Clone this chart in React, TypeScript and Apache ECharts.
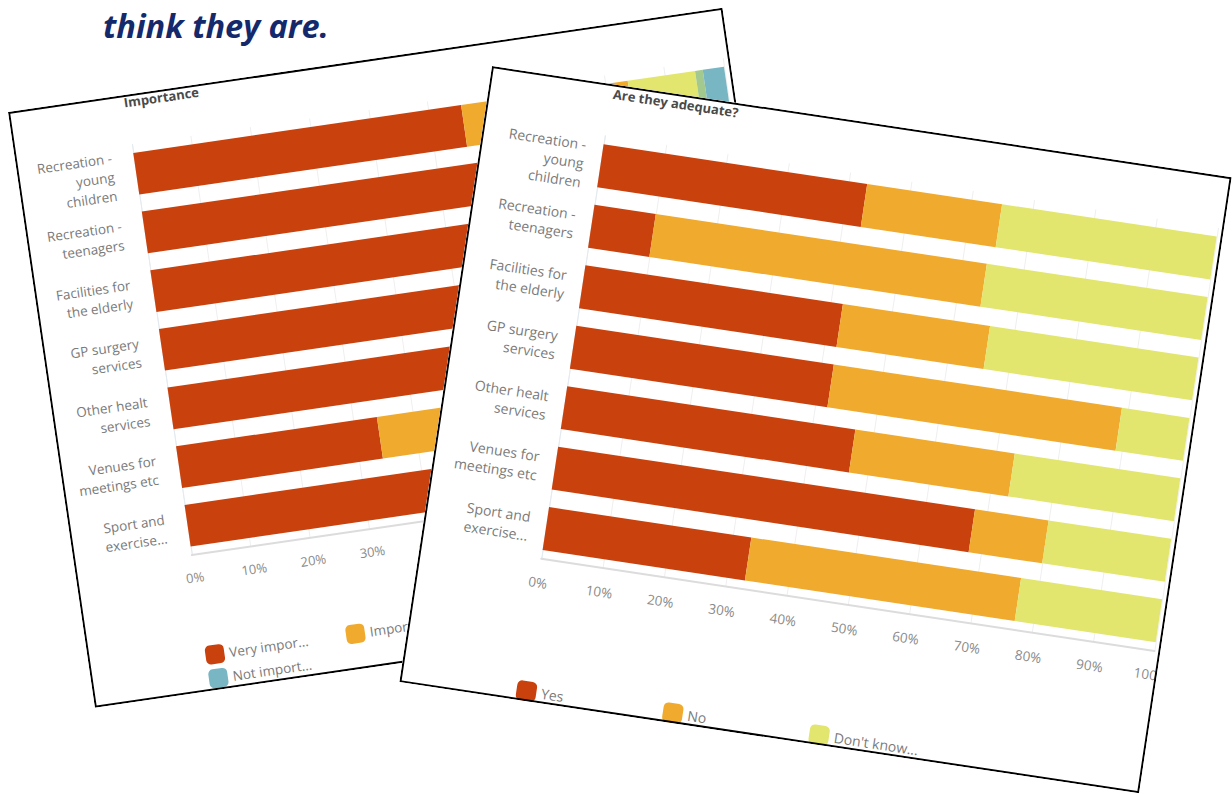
import React, { useEffect, useRef } from "react";
import * as echarts from "echarts";

// ---------- data ----------
const categories = [
  "Recreation -\nyoung\nchildren",
  "Recreation -\nteenagers",
  "Facilities for\nthe elderly",
  "GP surgery\nservices",
  "Other healt\nservices",
  "Venues for\nmeetings etc",
  "Sport and\nexercise...",
];

const pageTitle = "think they are.";

const adequacyTitle = "Are they adequate?";
const adequacyNames = ["Yes", "No", "Don't know..."];
const adequacyYes = [43, 10, 42, 42, 47, 68, 33];
const adequacyNo = [22, 54, 24, 47, 26, 12, 44];
const adequacyDontKnow = [35, 36, 34, 11, 27, 20, 23];

const importanceTitle = "Importance";
const importanceNames = ["Very impor...", "Important", "Neutral", "Not very i...", "Not import..."];
const importanceVery = [55.5, 66, 74, 86, 79, 34, 61];
const importanceImportant = [28.2, 26, 20, 12, 17, 44, 30];
const importanceNeutral = [11.4, 6, 4, 1, 3, 15, 6];
const importanceNotVery = [1.3, 1, 1, 0.5, 0.5, 3, 1];
const importanceNot = [3.6, 1, 1, 0.5, 0.5, 4, 2];

const RED = "#c9420e";
const ORANGE = "#f0aa2d";
const YELLOW = "#e2e66e";
const GREEN = "#a3c98e";
const TEAL = "#78b6c3";

const FONT = "'Open Sans', 'Noto Sans', sans-serif";

type Cfg = {
  title: string;
  titleLeft: number;
  titleTop: number;
  gridLeft: number;
  gridTop: number;
  gridWidth: number;
  gridHeight: number;
  yLabelMargin: number;
  xLabelMargin: number;
  fontSize: number;
  names: string[];
  values: number[][];
  colors: string[];
  legendPos: [number, number][];
  legendIcon: number;
};

function buildOption(c: Cfg) {
  return {
    animation: false,
    backgroundColor: "#ffffff",
    textStyle: { fontFamily: FONT },
    title: {
      text: c.title,
      left: c.titleLeft,
      top: c.titleTop,
      padding: 0,
      textStyle: { fontFamily: FONT, fontSize: 13, fontWeight: "bold", color: "#4a4a4a" },
    },
    grid: {
      left: c.gridLeft,
      top: c.gridTop,
      width: c.gridWidth,
      height: c.gridHeight,
      containLabel: false,
      outerBoundsMode: "none",
    },
    legend: c.names.map((n, i) => ({
      data: [n],
      left: c.legendPos[i][0],
      top: c.legendPos[i][1],
      padding: 0,
      itemGap: 0,
      itemWidth: c.legendIcon,
      itemHeight: c.legendIcon,
      icon: "roundRect",
      selectedMode: false,
      textStyle: { fontFamily: FONT, fontSize: c.fontSize, color: "#7a7a7a" },
    })),
    xAxis: {
      type: "value",
      min: 0,
      max: 100,
      interval: 10,
      axisLabel: { formatter: "{value}%", margin: c.xLabelMargin, color: "#8a8a8a", fontSize: c.fontSize - 0.5, fontFamily: FONT },
      splitLine: { show: true, lineStyle: { color: "#efefef", width: 1 } },
      axisLine: { show: true, lineStyle: { color: "#dcdcdc", width: 2 } },
      axisTick: { show: false },
    },
    yAxis: {
      type: "category",
      data: categories,
      inverse: true,
      axisTick: { show: false },
      axisLine: { show: true, lineStyle: { color: "#e2eaf0", width: 1 } },
      axisLabel: { margin: c.yLabelMargin, fontSize: c.fontSize, lineHeight: 19, color: "#7a7a7a", fontFamily: FONT },
    },
    series: c.names.map((n, i) => ({
      name: n,
      type: "bar",
      stack: "total",
      data: c.values[i],
      barCategoryGap: "29%",
      itemStyle: { color: c.colors[i] },
      emphasis: { disabled: true },
    })),
  };
}

const Chart: React.FC<{ option: any; width: number; height: number }> = ({ option, width, height }) => {
  const ref = useRef<HTMLDivElement>(null);
  useEffect(() => {
    const chart = echarts.init(ref.current as HTMLDivElement, undefined, { renderer: "svg" });
    chart.setOption(option);
    return () => chart.dispose();
  }, []);
  return <div ref={ref} style={{ position: "absolute", left: 0, top: 0, width, height }} />;
};

const Frame: React.FC<{ left: number; top: number; width: number; height: number; angle: number; option: any }> = ({
  left,
  top,
  width,
  height,
  angle,
  option,
}) => (
  <div
    style={{
      position: "absolute",
      left,
      top,
      width,
      height,
      transform: `rotate(${angle}deg)`,
      transformOrigin: "0 0",
      overflow: "hidden",
      background: "#fff",
    }}
  >
    <Chart option={option} width={width} height={height} />
    <div
      style={{
        position: "absolute",
        left: 0,
        top: 0,
        width,
        height,
        boxSizing: "border-box",
        border: "2px solid #000",
        pointerEvents: "none",
      }}
    />
  </div>
);

export default function App() {
  const bgOption = {
    animation: false,
    backgroundColor: "#ffffff",
    graphic: [
      {
        type: "text",
        left: 103,
        top: 9,
        style: {
          text: pageTitle,
          fontFamily: FONT,
          fontSize: 32.5,
          fontWeight: "bold",
          fontStyle: "italic",
          fill: "#14296b",
        },
      },
    ],
  };

  const backOption = buildOption({
    title: importanceTitle,
    titleLeft: 116,
    titleTop: 1,
    gridLeft: 118,
    gridTop: 50,
    gridWidth: 597,
    gridHeight: 415,
    yLabelMargin: 22,
    xLabelMargin: 16,
    fontSize: 13.5,
    names: importanceNames,
    values: [importanceVery, importanceImportant, importanceNeutral, importanceNotVery, importanceNot],
    colors: [RED, ORANGE, YELLOW, GREEN, TEAL],
    legendPos: [
      [117, 557],
      [259, 557],
      [401, 557],
      [542, 557],
      [117, 581],
    ],
    legendIcon: 19,
  });

  const frontOption = buildOption({
    title: adequacyTitle,
    titleLeft: 124,
    titleTop: 3,
    gridLeft: 122,
    gridTop: 52,
    gridWidth: 620,
    gridHeight: 428,
    yLabelMargin: 17,
    xLabelMargin: 17,
    fontSize: 14,
    names: adequacyNames,
    values: [adequacyYes, adequacyNo, adequacyDontKnow],
    colors: [RED, ORANGE, YELLOW],
    legendPos: [
      [117, 603],
      [265, 603],
      [413, 603],
    ],
    legendIcon: 20,
  });

  return (
    <div style={{ position: "absolute", left: 0, top: 0, width: 1232, height: 794, overflow: "hidden", background: "#fff" }}>
      <Chart option={bgOption} width={1232} height={794} />
      <Frame left={8} top={112} width={722} height={602} angle={-8.3} option={backOption} />
      <Frame left={492} top={66} width={748} height={623} angle={8.55} option={frontOption} />
    </div>
  );
}
